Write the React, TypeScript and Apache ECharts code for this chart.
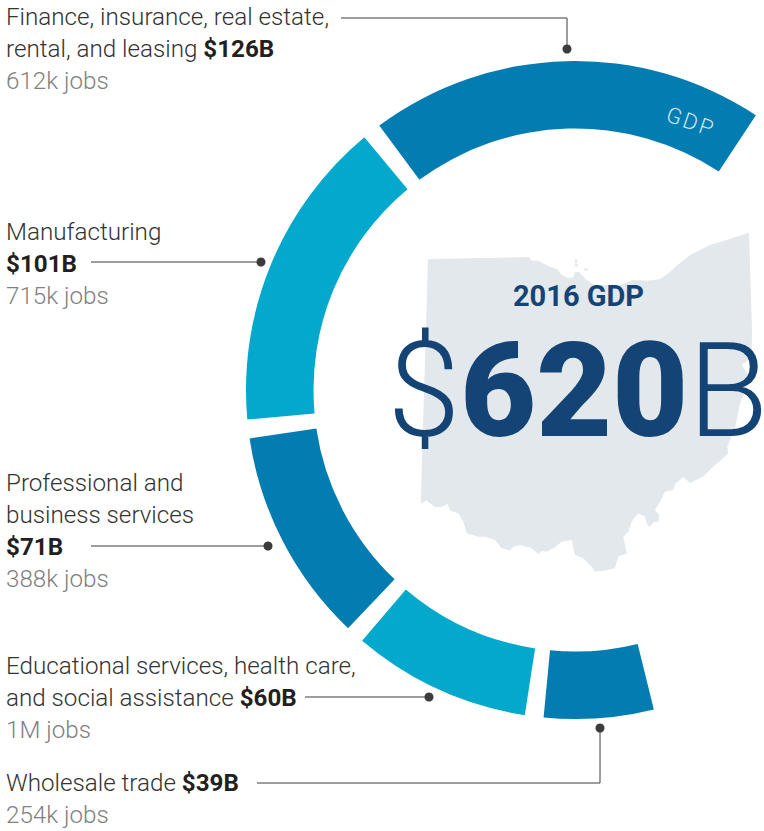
import React, { useEffect, useRef } from "react";
import * as echarts from "echarts";

const sectors = [
  "Finance, insurance, real estate, rental, and leasing",
  "Manufacturing",
  "Professional and business services",
  "Educational services, health care, and social assistance",
  "Wholesale trade",
];
const gdpBillions = [126, 101, 71, 60, 39];
const totalGdp = 620;
const sliceColors = ["#027cb1", "#02a9cd", "#027cb1", "#02a9cd", "#027cb1"];

const labelLines: { x: number; y: number; text: string; kind: "main" | "jobs" }[] = [
  { x: 6, y: 17, text: "Finance, insurance, real estate,", kind: "main" },
  { x: 6, y: 49, text: "rental, and leasing {b|$126B}", kind: "main" },
  { x: 6, y: 81, text: "612k jobs", kind: "jobs" },
  { x: 6, y: 232, text: "Manufacturing", kind: "main" },
  { x: 6, y: 264, text: "{b|$101B}", kind: "main" },
  { x: 6, y: 296, text: "715k jobs", kind: "jobs" },
  { x: 6, y: 483, text: "Professional and", kind: "main" },
  { x: 6, y: 515, text: "business services", kind: "main" },
  { x: 6, y: 547, text: "{b|$71B}", kind: "main" },
  { x: 6, y: 579, text: "388k jobs", kind: "jobs" },
  { x: 6, y: 666, text: "Educational services, health care,", kind: "main" },
  { x: 6, y: 698, text: "and social assistance {b|$60B}", kind: "main" },
  { x: 6, y: 730, text: "1M jobs", kind: "jobs" },
  { x: 6, y: 783, text: "Wholesale trade {b|$39B}", kind: "main" },
  { x: 6, y: 815, text: "254k jobs", kind: "jobs" },
];

const leaders: number[][][] = [
  [[341, 18], [567, 18], [567, 49]],
  [[91, 262], [261, 262]],
  [[91, 546], [268, 546]],
  [[305, 697], [429, 697]],
  [[257, 783], [600, 783], [600, 728]],
];

const ohioOutline: number[][] = [
  [428, 259], [529.3, 257], [531.7, 260.7], [538.3, 260.7], [548.3, 266], [556.7, 269], [561.7, 275], [568.3, 278.3],
  [573.3, 277.3], [575, 271.7], [579.3, 272.3], [586.7, 280], [595, 285], [620, 285], [633, 280], [646.7, 280.7],
  [660, 279.3], [670, 271.7], [680, 263], [690, 255], [710, 245], [726.7, 240], [749, 232.7], [752, 330],
  [751.7, 358], [741.7, 365], [747.3, 373.3], [746.7, 388], [740, 403], [736.7, 420], [735, 428], [730, 440],
  [727.3, 446.7], [728.3, 453], [725, 456.7], [715, 465], [703, 476.7], [690, 483], [683.3, 477], [675, 484],
  [673.3, 490], [665, 491.7], [660, 501.7], [655, 510], [659.3, 515], [658.3, 521.7], [654.3, 521.7], [649.3, 527.3],
  [646.7, 523.3], [645, 516.7], [638.3, 513.3], [631.7, 521.7], [628.3, 531.7], [623.3, 536.7], [626.7, 553.3],
  [618.3, 556.7], [615, 568.3], [603.3, 570.7], [595, 571.7], [591.7, 566.7], [583.3, 558.3], [575, 555], [571.7, 540],
  [561.7, 541.7], [553.3, 548.3], [546.7, 551.7], [541.7, 551], [538.3, 554], [531.7, 548.3], [520, 545], [513.3, 546.7],
  [510, 550.7], [501.7, 548.3], [495, 540], [485, 536.7], [478.3, 536.7], [466.7, 533.3], [463.3, 521.7], [458.3, 513.3],
  [450, 510.7], [447.7, 504], [441.7, 506.7], [435, 507.3], [426.7, 500.7], [420.7, 503.3],
];
const ohioIslands: number[][][] = [
  [[575, 259], [577, 260], [577, 263], [575, 263]],
  [[575, 263.5], [578, 264], [577, 267], [574.5, 266]],
  [[584, 268], [588, 268.5], [587.5, 271], [584.5, 270.5]],
];

const FONT = "Roboto";
const INK = "#333333";
const NAVY = "#134475";
const LEADER = "#3c3c3c";
const LABEL_SIZE = 24.2;

export default function App() {
  const ref = useRef<HTMLDivElement>(null);
  useEffect(() => {
    if (!ref.current) return;
    const chart = echarts.init(ref.current, undefined, { renderer: "svg" });
    const rest = totalGdp - gdpBillions.reduce((a, b) => a + b, 0);
    const graphics: any[] = [
      { type: "polygon", z: 0, silent: true, shape: { points: ohioOutline }, style: { fill: "#e3e8ed" } },
      ...ohioIslands.map((p) => ({
        type: "polygon", z: 0, silent: true, shape: { points: p }, style: { fill: "#e3e8ed" },
      })),
      {
        type: "text", z: 5, x: 578.5, y: 296,
        style: { text: "2016 GDP", font: `700 29px ${FONT}`, fill: NAVY, align: "center", verticalAlign: "middle" },
      },
      {
        type: "text", z: 5, x: 578, y: 391,
        style: {
          text: "{l|$}{h|620}{l|B}", align: "center", verticalAlign: "middle",
          rich: {
            l: { fontFamily: FONT, fontWeight: 300, fontSize: 131, fill: NAVY, color: NAVY },
            h: { fontFamily: FONT, fontWeight: 900, fontSize: 131, fill: NAVY, color: NAVY },
          },
        },
      },
      {
        type: "text", z: 6, x: 691, y: 122, rotation: (-19 * Math.PI) / 180,
        style: { text: "GDP", font: `300 22px ${FONT}`, fill: "#cfe5ef", align: "center", verticalAlign: "middle" },
      },
      ...leaders.map((pts) => ({
        type: "polyline", z: 4, silent: true, shape: { points: pts },
        style: { stroke: LEADER, lineWidth: 1, fill: "none" },
      })),
      ...leaders.map((pts) => {
        const end = pts[pts.length - 1];
        return {
          type: "circle", z: 4, silent: true, shape: { cx: end[0], cy: end[1], r: 4.5 }, style: { fill: LEADER },
        };
      }),
      ...labelLines.map((l) => ({
        type: "text", z: 5, x: l.x, y: l.y,
        style: {
          text: l.text,
          font: `300 ${LABEL_SIZE}px ${FONT}`,
          fill: l.kind === "jobs" ? "#808080" : INK,
          verticalAlign: "middle",
          rich: {
            b: { fontFamily: FONT, fontWeight: 700, fontSize: LABEL_SIZE, fill: "#231f20", color: "#231f20" },
          },
        },
      })),
    ];
    chart.setOption({
      animation: false,
      series: [
        {
          type: "pie",
          silent: true,
          center: [575, 390],
          radius: [261.5, 329],
          startAngle: 55,
          clockwise: false,
          padAngle: 3.3,
          label: { show: false },
          labelLine: { show: false },
          data: [
            ...sectors.map((name, i) => ({
              name,
              value: gdpBillions[i],
              itemStyle: { color: sliceColors[i] },
            })),
            { name: "Other", value: rest, itemStyle: { color: "rgba(0,0,0,0)" } },
          ],
        },
      ],
      graphic: { elements: graphics },
    });
    ref.current.querySelectorAll("text").forEach((t) => {
      if (t.textContent === "GDP") t.setAttribute("letter-spacing", "2.5");
    });
    return () => chart.dispose();
  }, []);
  return <div ref={ref} style={{ position: "absolute", left: 0, top: 0, width: 764, height: 831 }} />;
}
